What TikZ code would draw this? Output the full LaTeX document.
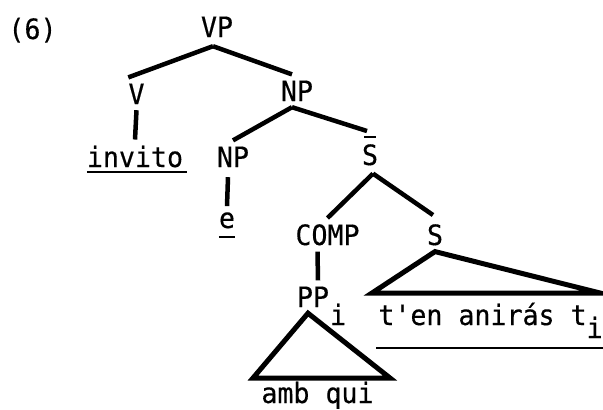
\documentclass[tikz,border=0pt]{standalone}
\usepackage{fontspec}
\newfontfamily\tw[FakeStretch=0.95,FakeBold=0.4,Ligatures=TeXOff]{DejaVu Sans Mono}
\begin{document}
\begin{tikzpicture}[x=1pt,y=-1pt,
  lab/.style={font={\tw\fontsize{28}{32}\selectfont}, inner xsep=0pt, inner ysep=6pt, anchor=base},
  branch/.style={line width=4.5pt},
  tri/.style={line width=5pt, line join=miter},
  uline/.style={line width=2.5pt}]
\useasboundingbox (0,0) rectangle (603,410);

% example number
\node[lab] (num) at (32.5,39) {(6)};

% category labels and words
\node[lab] (vp)    at (217,37)  {VP};
\node[lab] (v)     at (136.5,104) {V};
\node[lab] (np1)   at (297,101) {NP};
\node[lab] (invito) at (135,167) {invito};
\node[lab] (np2)   at (233,167) {NP};
\node[lab] (sbar)  at (370,165) {S};
\node[lab] (e)     at (227,228) {e};
\node[lab] (comp)  at (327.5,245) {COMP};
\node[lab] (s)     at (435,245) {S};
\node[lab] (pp)    at (313,307) {PP\rlap{\smash{\hspace{1pt}\raisebox{-18pt}{i}}}};
\node[lab] (tanir) at (482.5,325) {t'en anirás t\rlap{\smash{\raisebox{-13pt}{i}}}};
\node[lab] (ambqui) at (317.5,403) {amb qui};

% bar of S-bar
\draw[uline] ([xshift=-6pt,yshift=1pt]sbar.north) -- ([xshift=6pt,yshift=1pt]sbar.north);

% branches
\draw[branch] ([xshift=-4pt,yshift=-3pt]vp.south) -- (v.north west);
\draw[branch] ([xshift=-4pt,yshift=-3pt]vp.south) -- ([xshift=-5pt]np1.north);
\draw[branch] (v.south) -- (invito.north);
\draw[branch] ([xshift=-5pt]np1.south) -- (np2.north);
\draw[branch] ([xshift=-5pt]np1.south) -- ([xshift=-3pt,yshift=7pt]sbar.north);
\draw[branch] ([xshift=-5pt,yshift=-4pt]np2.south) -- (e.north);
\draw[branch] ([xshift=3pt,yshift=-2pt]sbar.south) -- (comp.north);
\draw[branch] ([xshift=3pt,yshift=-2pt]sbar.south) -- ([xshift=-2pt,yshift=3pt]s.north);
\draw[branch] ([xshift=-10pt]comp.south) -- ([xshift=5pt]pp.north);

% triangles
\coordinate (sL) at (372,293);
\coordinate (sR) at (600,293);
\draw[tri] (s.south) -- (sL) -- (sR) -- cycle;
\coordinate (pL) at (253,378);
\coordinate (pR) at (390,378);
\draw[tri] ([xshift=-5pt]pp.south) -- (pL) -- (pR) -- cycle;

% underlines
\draw[uline] ([yshift=-5pt]invito.base west) -- ([xshift=4pt,yshift=-5pt]invito.base east);
\draw[uline] ([yshift=-9pt]e.base west) -- ([yshift=-9pt]e.base east);
\draw[uline] ([xshift=-2pt,yshift=-23pt]tanir.base west) -- ([xshift=40pt,yshift=-23pt]tanir.base east);
\end{tikzpicture}
\end{document}
